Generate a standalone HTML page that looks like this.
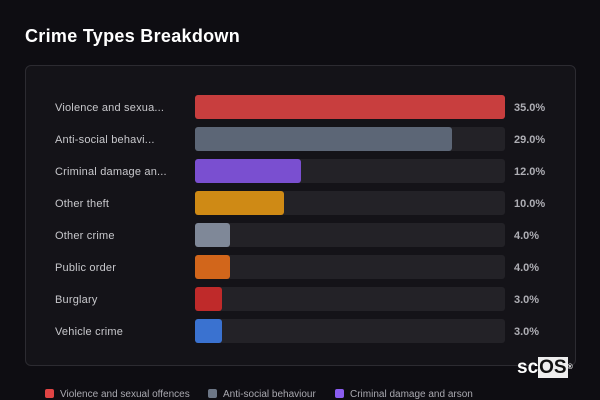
<!DOCTYPE html>
<html><head><style>
body{margin:0;width:600px;height:400px;background:#0e0d12;font-family:"Liberation Sans",sans-serif;position:relative;overflow:hidden}
.t{position:absolute;left:25px;top:26px;color:#fff;font-weight:bold;font-size:18px;letter-spacing:0.3px}
.card{position:absolute;left:25px;top:65px;width:549px;height:299px;background:#141318;border:1px solid #2c2b31;border-radius:6px}
.row{position:absolute;left:0;height:24px;width:600px}
.lab{position:absolute;left:55px;top:7px;color:#c8c8cc;font-size:11px;letter-spacing:0.2px}
.trk{position:absolute;left:195px;top:0;width:310px;height:24px;background:#232227;border-radius:3px}
.bar{position:absolute;left:195px;top:0;height:24px;border-radius:3px}
.val{position:absolute;left:514px;top:7px;color:#aeaeb4;font-size:11px;font-weight:bold}
.lg{position:absolute;top:389px;font-size:10px;color:#a9a9b0;white-space:nowrap}
.lg i{display:inline-block;width:9px;height:9px;border-radius:2px;margin-right:6px;vertical-align:-1px}
</style></head><body>
<div class="t">Crime Types Breakdown</div>
<div class="card"></div>
<div class="row" style="top:95px"><span class="lab">Violence and sexua...</span><div class="trk"></div><div class="bar" style="width:310px;background:#c83e3e"></div><span class="val">35.0%</span></div>
<div class="row" style="top:127px"><span class="lab">Anti-social behavi...</span><div class="trk"></div><div class="bar" style="width:257px;background:#5c6676"></div><span class="val">29.0%</span></div>
<div class="row" style="top:159px"><span class="lab">Criminal damage an...</span><div class="trk"></div><div class="bar" style="width:106px;background:#7a4fd0"></div><span class="val">12.0%</span></div>
<div class="row" style="top:191px"><span class="lab">Other theft</span><div class="trk"></div><div class="bar" style="width:89px;background:#cf8a15"></div><span class="val">10.0%</span></div>
<div class="row" style="top:223px"><span class="lab">Other crime</span><div class="trk"></div><div class="bar" style="width:35px;background:#7f8898"></div><span class="val">4.0%</span></div>
<div class="row" style="top:255px"><span class="lab">Public order</span><div class="trk"></div><div class="bar" style="width:35px;background:#d2661b"></div><span class="val">4.0%</span></div>
<div class="row" style="top:287px"><span class="lab">Burglary</span><div class="trk"></div><div class="bar" style="width:27px;background:#bf2a2a"></div><span class="val">3.0%</span></div>
<div class="row" style="top:319px"><span class="lab">Vehicle crime</span><div class="trk"></div><div class="bar" style="width:27px;background:#3a72d0"></div><span class="val">3.0%</span></div>
<div style="position:absolute;left:517px;top:358px;height:20px;font-size:19px;font-weight:bold;color:#fff;line-height:20px">sc<span style="background:#eee;color:#111;padding:0 1px">OS</span><sup style="font-size:7px;vertical-align:top">®</sup></div>
<div class="lg" style="left:45px"><i style="background:#e04444"></i>Violence and sexual offences</div>
<div class="lg" style="left:208px"><i style="background:#6c7686"></i>Anti-social behaviour</div>
<div class="lg" style="left:335px"><i style="background:#8a5cf0"></i>Criminal damage and arson</div>
</body></html>
